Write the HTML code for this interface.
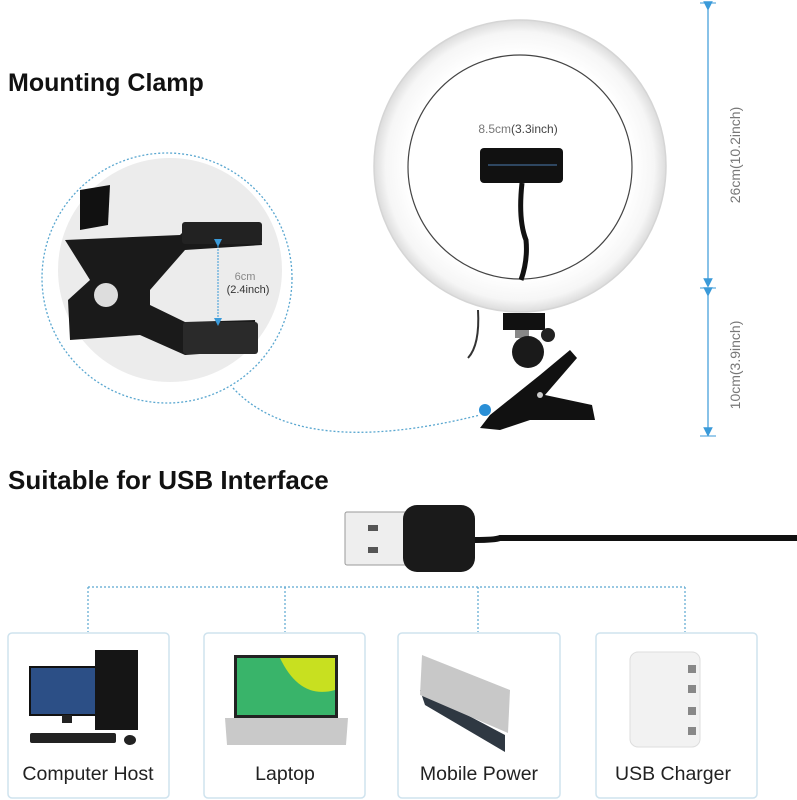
<!DOCTYPE html>
<html><head><meta charset="utf-8"><style>
html,body{margin:0;padding:0;background:#fff;}
svg{display:block;font-family:"Liberation Sans",Arial,sans-serif;}
</style></head><body>
<svg width="797" height="800" viewBox="0 0 797 800" xmlns="http://www.w3.org/2000/svg">
<defs>
<radialGradient id="rg" cx="50%" cy="50%" r="50%">
<stop offset="0.77" stop-color="#fff"/><stop offset="0.92" stop-color="#f6f6f6"/><stop offset="1" stop-color="#dcdcdc"/>
</radialGradient>
<marker id="ah" markerWidth="8" markerHeight="8" refX="4" refY="4" orient="auto"><path d="M0,0 L8,4 L0,8 z" fill="#3a9ad9"/></marker>
</defs>
<rect width="797" height="800" fill="#fff"/>

<text x="8" y="91" font-size="25" font-weight="bold" fill="#111">Mounting Clamp</text>

<!-- zoom circle -->
<circle cx="167" cy="278" r="125" fill="none" stroke="#5aa7d0" stroke-width="1.3" stroke-dasharray="2,2"/>
<circle cx="170" cy="270" r="112" fill="#ececec"/>
<path d="M233,388 Q300,460 480,415" fill="none" stroke="#5aa7d0" stroke-width="1.3" stroke-dasharray="2,2"/>
<!-- clamp closeup -->
<path d="M80,190 L110,185 L108,225 L80,230 z" fill="#111"/>
<path d="M65,240 L180,235 L190,225 L260,225 L262,245 L185,250 L150,290 L150,305 L185,322 L255,320 L258,350 L185,355 L140,335 L70,340 L68,300 L90,280 z" fill="#1a1a1a"/>
<circle cx="106" cy="295" r="12" fill="#ddd"/>
<rect x="182" y="222" width="80" height="22" rx="3" fill="#222"/>
<rect x="183" y="322" width="75" height="32" rx="3" fill="#2a2a2a"/>
<line x1="218" y1="243" x2="218" y2="322" stroke="#3a9ad9" stroke-width="1" stroke-dasharray="2,1" marker-start="url(#ah)" marker-end="url(#ah)"/>
<text x="245" y="280" font-size="11" fill="#888" text-anchor="middle">6cm</text>
<text x="248" y="293" font-size="11" fill="#333" text-anchor="middle">(2.4inch)</text>

<!-- ring light -->
<circle cx="520" cy="166" r="146" fill="url(#rg)" stroke="#d5d5d5" stroke-width="1.5"/>
<circle cx="520" cy="167" r="112" fill="#fff" stroke="#444" stroke-width="1.2"/>
<text x="518" y="133" font-size="12" fill="#777" text-anchor="middle">8.5cm<tspan fill="#444">(3.3inch)</tspan></text>
<rect x="480" y="148" width="83" height="35" rx="4" fill="#111"/>
<line x1="488" y1="165" x2="557" y2="165" stroke="#4a7ab0" stroke-width="1"/>
<path d="M522,183 Q518,220 526,240 Q528,260 521,280" fill="none" stroke="#111" stroke-width="5"/>
<path d="M478,310 Q480,345 468,358" fill="none" stroke="#333" stroke-width="2"/>
<rect x="503" y="313" width="42" height="17" fill="#111"/>
<rect x="515" y="330" width="14" height="8" fill="#888"/>
<circle cx="528" cy="352" r="16" fill="#1a1a1a"/>
<circle cx="548" cy="335" r="7" fill="#222"/>
<path d="M490,415 L540,375 L570,350 L577,358 L545,395 L592,405 L595,420 L530,420 L500,430 L480,428 z" fill="#111"/>
<circle cx="485" cy="410" r="6" fill="#2a8fd6"/>
<circle cx="540" cy="395" r="3" fill="#ccc"/>

<!-- dimension lines -->
<line x1="708" y1="6" x2="708" y2="283" stroke="#3a9ad9" stroke-width="1.2" marker-start="url(#ah)" marker-end="url(#ah)"/>
<line x1="708" y1="292" x2="708" y2="432" stroke="#3a9ad9" stroke-width="1.2" marker-start="url(#ah)" marker-end="url(#ah)"/>
<line x1="700" y1="3" x2="716" y2="3" stroke="#3a9ad9"/>
<line x1="700" y1="288" x2="716" y2="288" stroke="#3a9ad9"/>
<line x1="700" y1="436" x2="716" y2="436" stroke="#3a9ad9"/>
<text transform="translate(740,155) rotate(-90)" font-size="14" fill="#777" text-anchor="middle">26cm(10.2inch)</text>
<text transform="translate(740,365) rotate(-90)" font-size="14" fill="#777" text-anchor="middle">10cm(3.9inch)</text>

<text x="8" y="489" font-size="26" font-weight="bold" fill="#111">Suitable for USB Interface</text>

<!-- USB plug -->
<path d="M475,540 Q495,540 500,538 L797,538" fill="none" stroke="#111" stroke-width="6"/>
<rect x="345" y="512" width="62" height="53" rx="2" fill="#eee" stroke="#999"/>
<rect x="368" y="525" width="10" height="6" fill="#555"/>
<rect x="368" y="547" width="10" height="6" fill="#555"/>
<rect x="403" y="505" width="72" height="67" rx="14" fill="#1a1a1a"/>

<!-- connectors -->
<g stroke="#5aa7d0" stroke-width="1.2" stroke-dasharray="2,2" fill="none">
<line x1="88" y1="587" x2="685" y2="587"/>
<line x1="88" y1="587" x2="88" y2="632"/>
<line x1="285" y1="587" x2="285" y2="632"/>
<line x1="478" y1="587" x2="478" y2="632"/>
<line x1="685" y1="587" x2="685" y2="632"/>
</g>
<g fill="#fff" stroke="#cfe3ee" stroke-width="1.5">
<rect x="8" y="633" width="161" height="165" rx="4"/>
<rect x="204" y="633" width="161" height="165" rx="4"/>
<rect x="398" y="633" width="162" height="165" rx="4"/>
<rect x="596" y="633" width="161" height="165" rx="4"/>
</g>
<!-- computer -->
<rect x="30" y="667" width="74" height="48" fill="#2c4f86" stroke="#111" stroke-width="2"/>
<rect x="62" y="715" width="10" height="8" fill="#222"/>
<rect x="95" y="650" width="43" height="80" fill="#151515"/>
<rect x="30" y="733" width="86" height="10" rx="2" fill="#222"/>
<ellipse cx="130" cy="740" rx="6" ry="5" fill="#222"/>
<!-- laptop -->
<rect x="234" y="655" width="104" height="63" fill="#222"/>
<rect x="237" y="658" width="98" height="57" fill="#39b46a"/>
<path d="M280,658 L335,658 L335,690 Q300,700 280,658" fill="#c8e020"/>
<path d="M225,718 L348,718 L346,745 L227,745 z" fill="#c9c9c9"/>
<!-- power bank -->
<path d="M420,690 L505,735 L505,752 L425,705 z" fill="#2f3842"/>
<path d="M422,655 L510,690 L508,733 L420,695 z" fill="#c8c8c8"/>
<!-- charger -->
<rect x="630" y="652" width="70" height="95" rx="8" fill="#f2f2f2" stroke="#ddd"/>
<g fill="#888"><rect x="688" y="665" width="8" height="8"/><rect x="688" y="685" width="8" height="8"/><rect x="688" y="707" width="8" height="8"/><rect x="688" y="727" width="8" height="8"/></g>

<g font-size="19.5" fill="#222" text-anchor="middle">
<text x="88" y="780">Computer Host</text>
<text x="285" y="780">Laptop</text>
<text x="479" y="780">Mobile Power</text>
<text x="673" y="780">USB Charger</text>
</g>
</svg>
</body></html>
